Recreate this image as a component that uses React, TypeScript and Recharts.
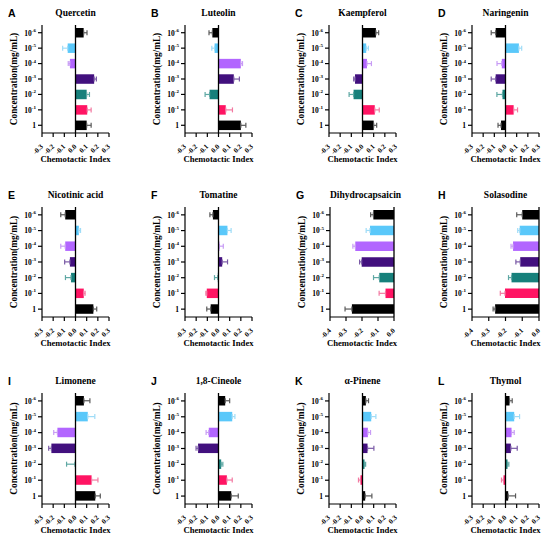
import React from 'react';
import { BarChart, Bar, XAxis, YAxis, Cell, ErrorBar, ReferenceLine } from 'recharts';

// concentration categories, top to bottom
const concentrations = ['1e-6', '1e-5', '1e-4', '1e-3', '1e-2', '1e-1', '1'];
const barColors = ['#000000', '#5ac8fa', '#b266ff', '#42107e', '#17807b', '#ff1463', '#000000'];
const whiskerColors = ['#5a5a5a', '#9fdcf7', '#c89cf5', '#7a5aa6', '#5fa8a4', '#f27aa2', '#5a5a5a'];

const symTicks = [-0.3, -0.2, -0.1, 0, 0.1, 0.2, 0.3];
const negTicks = [-0.4, -0.3, -0.2, -0.1, 0];

// chemotactic index (mean) and error
const quercetinMean = [0.073, -0.07, -0.05, 0.167, 0.1, 0.105, 0.1];
const quercetinSem = [0.03, 0.045, 0.015, 0.02, 0.025, 0.035, 0.04];
const luteolinMean = [-0.055, -0.035, 0.2, 0.137, -0.08, 0.065, 0.2];
const luteolinSem = [0.03, 0.025, 0.015, 0.05, 0.04, 0.06, 0.045];
const kaempferolMean = [0.12, 0.033, 0.04, -0.067, -0.08, 0.11, 0.1];
const kaempferolSem = [0.025, 0.02, 0.04, 0.012, 0.04, 0.04, 0.027];
const naringeninMean = [-0.088, 0.12, -0.033, -0.088, -0.027, 0.073, -0.04];
const naringeninSem = [0.04, 0.025, 0.043, 0.04, 0.05, 0.035, 0.027];
const nicotinicMean = [-0.092, 0.03, -0.092, -0.05, -0.04, 0.074, 0.16];
const nicotinicSem = [0.04, 0.015, 0.04, 0.047, 0.05, 0.012, 0.03];
const tomatineMean = [-0.05, 0.08, 0.008, 0.033, -0.006, -0.105, -0.07];
const tomatineSem = [0.027, 0.033, 0.035, 0.048, 0.03, 0.008, 0.035];
const dihydrocapsaicinMean = [-0.129, -0.15, -0.242, -0.202, -0.092, -0.053, -0.263];
const dihydrocapsaicinSem = [0.017, 0.024, 0.015, 0.013, 0.036, 0.04, 0.043];
const solasodineMean = [-0.1, -0.115, -0.155, -0.112, -0.164, -0.203, -0.262];
const solasodineSem = [0.033, 0.012, 0.012, 0.026, 0.018, 0.028, 0.012];
const limoneneMean = [0.075, 0.11, -0.162, -0.216, -0.005, 0.144, 0.177];
const limoneneSem = [0.054, 0.063, 0.033, 0.024, 0.075, 0.057, 0.045];
const cineoleMean = [0.06, 0.123, -0.087, -0.183, 0.024, 0.075, 0.114];
const cineoleSem = [0.04, 0.024, 0.024, 0.018, 0.015, 0.048, 0.063];
const pineneMean = [0.03, 0.078, 0.048, 0.045, 0.018, -0.018, 0.024];
const pineneSem = [0.024, 0.042, 0.024, 0.057, 0.01, 0.018, 0.06];
const thymolMean = [0.036, 0.078, 0.054, 0.048, 0.018, -0.018, 0.024];
const thymolSem = [0.024, 0.048, 0.024, 0.057, 0.012, 0.018, 0.066];

const serif = '"Liberation Serif", "Times New Roman", serif';
const sans = '"Liberation Sans", Arial, sans-serif';

const colLeft = [42, 185, 329, 472];
const rowTop = [25, 207, 393];
const rowHeight = [108, 110, 111];

const panels = [
  { letter: 'A', title: 'Quercetin', mean: quercetinMean, sem: quercetinSem, row: 0, col: 0 },
  { letter: 'B', title: 'Luteolin', mean: luteolinMean, sem: luteolinSem, row: 0, col: 1 },
  { letter: 'C', title: 'Kaempferol', mean: kaempferolMean, sem: kaempferolSem, row: 0, col: 2 },
  { letter: 'D', title: 'Naringenin', mean: naringeninMean, sem: naringeninSem, row: 0, col: 3 },
  { letter: 'E', title: 'Nicotinic acid', mean: nicotinicMean, sem: nicotinicSem, row: 1, col: 0 },
  { letter: 'F', title: 'Tomatine', mean: tomatineMean, sem: tomatineSem, row: 1, col: 1 },
  { letter: 'G', title: 'Dihydrocapsaicin', mean: dihydrocapsaicinMean, sem: dihydrocapsaicinSem, row: 1, col: 2, negative: true },
  { letter: 'H', title: 'Solasodine', mean: solasodineMean, sem: solasodineSem, row: 1, col: 3, negative: true },
  { letter: 'I', title: 'Limonene', mean: limoneneMean, sem: limoneneSem, row: 2, col: 0 },
  { letter: 'J', title: '1,8-Cineole', mean: cineoleMean, sem: cineoleSem, row: 2, col: 1 },
  { letter: 'K', title: 'α-Pinene', mean: pineneMean, sem: pineneSem, row: 2, col: 2 },
  { letter: 'L', title: 'Thymol', mean: thymolMean, sem: thymolSem, row: 2, col: 3 },
];

const ConcTick = ({ x, y, payload }: any) => {
  const v: string = payload.value;
  return (
    <text x={x} y={y} dy={2.8} textAnchor="end" fontFamily={serif} fontWeight="bold" fontSize={7.5} fill="#000">
      {v === '1' ? '1' : '10'}
      {v !== '1' && (
        <tspan dy={-3.8} fontSize={5}>
          {v.slice(2)}
        </tspan>
      )}
    </text>
  );
};

const IndexTick = ({ x, y, payload }: any) => {
  const px = x + 1.5;
  const py = y + 8;
  return (
    <text
      x={px}
      y={py}
      textAnchor="end"
      transform={`rotate(-45, ${px}, ${py})`}
      fontFamily={serif}
      fontWeight="bold"
      fontSize={7}
      fill="#000"
    >
      {Number(payload.value).toFixed(1)}
    </text>
  );
};

const Panel = ({ p }: any) => {
  const left = p.col === 2 && p.negative ? 330 : colLeft[p.col];
  const plotW = p.col === 2 && p.negative ? 64 : 67;
  const top = rowTop[p.row];
  const plotH = rowHeight[p.row];
  const data = concentrations.map((c, i) => {
    const row: any = { conc: c, mean: p.mean[i] };
    row['e' + i] = p.mean[i] < 0 ? [p.sem[i], 0] : [0, p.sem[i]];
    return row;
  });
  const ticks = p.negative ? negTicks : symTicks;
  const domain = p.negative ? [-0.4, 0] : [-0.3, 0.3];

  return (
    <div style={{ position: 'absolute', left: left - 42, top: top - 4 }}>
      <BarChart
        width={42 + plotW + 8}
        height={4 + plotH + 36}
        data={data}
        layout="vertical"
        margin={{ top: 4, right: 8, bottom: 0, left: 0 }}
      >
        <XAxis
          type="number"
          domain={domain}
          ticks={ticks}
          interval={0}
          allowDataOverflow
          height={36}
          tickSize={4}
          tickMargin={2}
          tick={<IndexTick />}
          axisLine={{ stroke: '#000', strokeWidth: 1.2 }}
          tickLine={{ stroke: '#000', strokeWidth: 1.2 }}
          label={(lp: any) => {
            const vb = lp.viewBox;
            return (
              <text x={vb.x + vb.width / 2} y={vb.y + 28.5} textAnchor="middle" fontFamily={serif} fontWeight="bold" fontSize={8.7} fill="#000">
                Chemotactic Index
              </text>
            );
          }}
        />
        <YAxis
          type="category"
          dataKey="conc"
          width={42}
          interval={0}
          tickSize={4}
          tickMargin={2}
          tick={<ConcTick />}
          axisLine={{ stroke: '#000', strokeWidth: 1.2 }}
          tickLine={{ stroke: '#000', strokeWidth: 1.2 }}
          label={(lp: any) => {
            const vb = lp.viewBox;
            const cx = vb.x + 14;
            const cy = vb.y + vb.height / 2;
            return (
              <text x={cx} y={cy} dy={3} textAnchor="middle" transform={`rotate(-90, ${cx}, ${cy})`} fontFamily={serif} fontWeight="bold" fontSize={9.3} fill="#000">
                Concentration(mg/mL)
              </text>
            );
          }}
        />
        <Bar dataKey="mean" barSize={9.5} isAnimationActive={false}>
          {data.map((_, i) => (
            <Cell key={i} fill={barColors[i]} />
          ))}
          {data.map((_, i) => (
            <ErrorBar key={'eb' + i} dataKey={'e' + i} direction="x" width={2.5} stroke={whiskerColors[i]} strokeWidth={1.2} />
          ))}
        </Bar>
        <ReferenceLine x={0} stroke="#000" strokeWidth={1.3} />
      </BarChart>
      <div
        style={{
          position: 'absolute',
          left: 42 - 34,
          top: -9.5 + 4 - 9,
          fontFamily: sans,
          fontWeight: 'bold',
          fontSize: 10.5,
          lineHeight: '12px',
        }}
      >
        {p.letter}
      </div>
      <div
        style={{
          position: 'absolute',
          left: 42,
          width: plotW,
          top: -9.5 + 4 - 8,
          textAlign: 'center',
          whiteSpace: 'nowrap',
          fontFamily: serif,
          fontWeight: 'bold',
          fontSize: 9.5,
          lineHeight: '10px',
        }}
      >
        {p.title}
      </div>
    </div>
  );
};

export default function App() {
  return (
    <div style={{ position: 'absolute', left: 0, top: 0, width: 550, height: 540, background: '#fff' }}>
      {panels.map((p) => (
        <Panel key={p.letter} p={p} />
      ))}
    </div>
  );
}
